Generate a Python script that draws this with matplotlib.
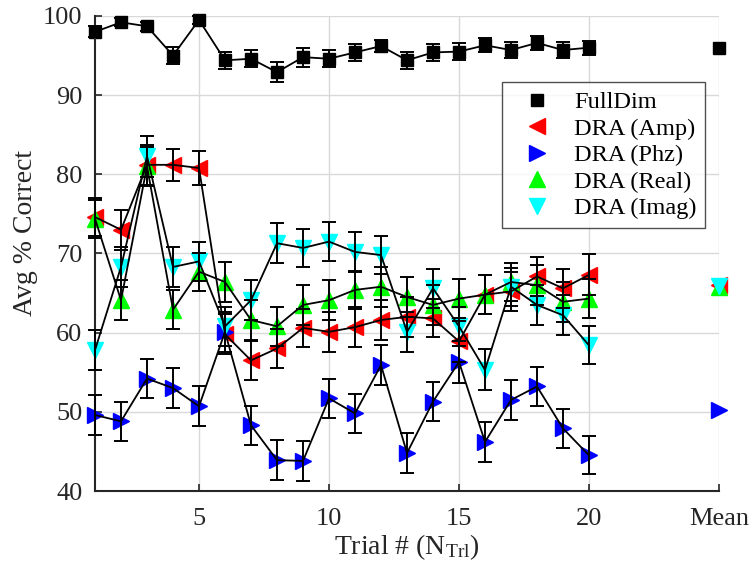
import matplotlib
matplotlib.use('Agg')
import matplotlib.pyplot as plt

plt.rcParams['font.family'] = ['Liberation Serif', 'DejaVu Serif']
plt.rcParams['mathtext.fontset'] = 'custom'
plt.rcParams['mathtext.rm'] = 'Liberation Serif'
plt.rcParams['mathtext.it'] = 'Liberation Serif:italic'

trials = list(range(1, 21))
mean_pos = 25

full_dim = [98.0, 99.2, 98.7, 95.0, 99.5, 94.4, 94.6, 92.9, 94.8, 94.6,
            95.4, 96.2, 94.4, 95.4, 95.5, 96.3, 95.7, 96.6, 95.7, 96.0]
full_dim_err = [0.7, 0.5, 0.6, 1.05, 0.5, 1.1, 1.1, 1.3, 1.2, 1.1,
                1.1, 0.8, 1.1, 1.1, 1.1, 0.9, 1.0, 0.9, 1.0, 0.9]
amp = [74.6, 73.0, 81.2, 81.2, 80.8, 59.8, 56.5, 58.0, 60.6, 60.1,
       60.7, 61.6, 62.0, 61.8, 58.9, 64.8, 65.2, 67.1, 65.6, 67.3]
amp_err = [2.4, 2.5, 2.5, 2.0, 2.2, 2.5, 2.5, 2.5, 2.4, 2.5,
           2.5, 2.5, 2.5, 2.4, 2.6, 2.5, 2.5, 2.5, 2.5, 2.6]
phz = [49.6, 48.8, 54.2, 53.0, 50.7, 60.1, 48.3, 43.9, 43.8, 51.7,
       49.8, 55.9, 44.8, 51.3, 56.3, 46.2, 51.5, 53.2, 47.9, 44.5]
phz_err = [2.5, 2.5, 2.5, 2.5, 2.5, 2.5, 2.5, 2.5, 2.5, 2.5,
           2.5, 2.5, 2.5, 2.5, 2.6, 2.5, 2.5, 2.5, 2.5, 2.4]
real = [74.4, 64.1, 81.0, 62.9, 67.7, 66.4, 61.6, 60.8, 63.5, 64.1,
        65.4, 65.8, 64.5, 63.5, 64.3, 64.8, 66.4, 66.0, 63.9, 64.3]
real_err = [2.4, 2.5, 2.5, 2.5, 2.4, 2.5, 2.5, 2.5, 2.5, 2.5,
            2.4, 2.5, 2.5, 2.5, 2.5, 2.5, 2.4, 2.5, 2.5, 2.5]
imag = [57.8, 68.3, 82.3, 68.3, 69.0, 60.8, 64.1, 71.3, 70.7, 71.5,
        70.2, 69.8, 60.1, 65.6, 60.8, 55.3, 65.8, 63.5, 62.2, 58.4]
imag_err = [2.5, 2.5, 2.6, 2.5, 2.5, 2.5, 2.5, 2.5, 2.4, 2.5,
            2.5, 2.4, 2.5, 2.5, 2.5, 2.6, 2.4, 2.5, 2.5, 2.4]

means = {'FullDim': 96.0, 'Amp': 66.0, 'Phz': 50.2, 'Real': 65.8, 'Imag': 65.9}

x_ticks = [5, 10, 15, 20, 25]
x_tick_labels = ['5', '10', '15', '20', 'Mean']
y_ticks = [40, 50, 60, 70, 80, 90, 100]

series = [
    ('FullDim', full_dim, full_dim_err, means['FullDim'], 's', 'black', 9),
    ('DRA (Amp)', amp, amp_err, means['Amp'], '<', (1, 0, 0), 11),
    ('DRA (Phz)', phz, phz_err, means['Phz'], '>', (0, 0, 1), 11),
    ('DRA (Real)', real, real_err, means['Real'], '^', (0, 1, 0), 11),
    ('DRA (Imag)', imag, imag_err, means['Imag'], 'v', (0, 1, 1), 11),
]

text_gray = (0.15, 0.15, 0.15)

fig = plt.figure(figsize=(7.51, 5.73), dpi=100)
ax = fig.add_axes([0.1265, 0.1431, 0.8309, 0.8290])

handles = []
for label, vals, errs, mean_val, marker, color, ms in series:
    h, = ax.plot(trials + [mean_pos], vals + [mean_val], linestyle='none', marker=marker,
                 markersize=ms, markerfacecolor=color, markeredgecolor=color, zorder=2,
                 label=label, clip_on=False)
    handles.append(h)
    eb = ax.errorbar(trials, vals, yerr=errs, color='black', linewidth=1.3, elinewidth=1.4,
                     capsize=4.8, capthick=1.4, zorder=3)
    for artist in eb.get_children():
        artist.set_clip_on(False)

ax.set_xlim(1, 25)
ax.set_ylim(40, 100)
ax.set_xticks(x_ticks)
ax.set_xticklabels(x_tick_labels)
ax.set_yticks(y_ticks)
ax.grid(True, color=(0.85, 0.85, 0.85), linewidth=1.0)
ax.set_axisbelow(True)
ax.spines['top'].set_visible(False)
ax.spines['right'].set_visible(False)
for side in ['left', 'bottom']:
    ax.spines[side].set_color(text_gray)
    ax.spines[side].set_linewidth(1.5)
ax.tick_params(direction='in', length=5, width=1.2, colors=text_gray, labelsize=19)
ax.tick_params(axis='y', pad=9)
ax.tick_params(axis='x', pad=12)

ax.set_xlabel('Trial # (N$_{\\mathrm{Trl}}$)', fontsize=20, color=text_gray, labelpad=2)
ax.set_ylabel('Avg % Correct', fontsize=20, color=text_gray)
ax.yaxis.set_label_coords(-0.092, 0.543)

leg = ax.legend(handles=handles, loc='upper left', bbox_to_anchor=(0.652, 0.86), fontsize=17.6,
                frameon=True, fancybox=False, edgecolor=text_gray, handlelength=2.2,
                handletextpad=0.4, borderpad=0.35, labelspacing=0.18, borderaxespad=0)
leg.get_frame().set_linewidth(1.0)

fig.savefig('out.png', dpi=100)
